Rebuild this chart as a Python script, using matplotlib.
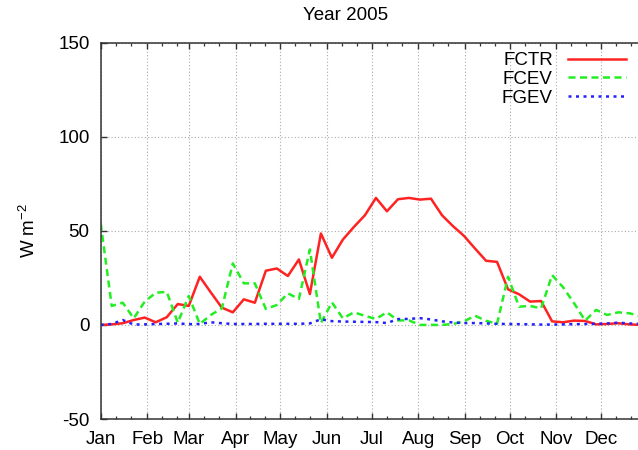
import numpy as np
import matplotlib
matplotlib.use('Agg')
import matplotlib.pyplot as plt

plt.rcParams['font.family'] = ['Liberation Sans', 'DejaVu Sans']
plt.rcParams['axes.unicode_minus'] = False

# Values (W m-2), one point every ~7.35 days
fctr = [0.0, 0.3, 0.9, 2.6, 3.9, 1.4, 4.1, 11.1, 10.1, 25.6,
        17.3, 9.2, 6.7, 13.6, 11.8, 28.8, 30.0, 26.0, 34.8, 16.4,
        48.6, 35.7, 45.4, 52.1, 58.3, 67.5, 60.4, 66.8, 67.5, 66.6,
        67.1, 58.3, 52.5, 47.3, 40.6, 34.1, 33.5, 18.9, 16.3, 12.4,
        12.7, 1.9, 1.4, 2.3, 2.1, 0.3, 0.5, 0.9, 0.3, 0.0]
fcev = [53.9, 10.1, 11.8, 3.5, 12.4, 17.1, 17.6, 1.2, 15.4, 0.5,
        5.3, 8.8, 32.7, 22.1, 22.1, 8.5, 10.6, 16.8, 13.8, 40.1,
        0.9, 12.0, 3.5, 6.7, 4.8, 3.2, 6.7, 2.4, 2.4, 0.0,
        0.0, 0.0, 0.5, 1.9, 4.9, 2.2, 0.6, 25.6, 9.7, 10.1,
        8.8, 26.5, 20.0, 11.5, 2.3, 8.0, 5.3, 6.7, 6.2, 4.8]
fgev = [0.0, 0.5, 2.6, 0.2, 0.3, 0.5, 0.6, 0.8, 0.4, 0.5,
        1.4, 0.9, 0.5, 0.5, 0.5, 0.6, 0.6, 0.6, 0.6, 0.8,
        3.0, 2.0, 1.8, 1.7, 1.6, 1.5, 1.0, 3.1, 3.2, 3.6,
        2.9, 1.9, 1.3, 1.0, 1.0, 0.8, 0.6, 0.5, 0.4, 0.3,
        0.2, 0.2, 0.3, 0.4, 0.5, 0.6, 0.8, 1.2, 0.8, 0.5]
step_days = 7.35
days = np.arange(len(fctr)) * step_days

months = ['Jan', 'Feb', 'Mar', 'Apr', 'May', 'Jun',
          'Jul', 'Aug', 'Sep', 'Oct', 'Nov', 'Dec']
month_start = [0, 31, 59, 90, 120, 151, 181, 212, 243, 273, 304, 334]

fs = 13.5
fig = plt.figure(figsize=(6.38, 4.5), dpi=100)
ax = fig.add_axes([100.7 / 638, 1 - 419 / 450, 537.3 / 638, 376.3 / 450])

ax.plot(days, fctr, color='#ff2222', lw=1.8, label='FCTR')
ax.plot(days, fcev, color='#22ee22', lw=1.8, dashes=(2.8, 1.8), label='FCEV')
ax.plot(days, fgev, color='#2222ff', lw=1.8, dashes=(1.2, 1.8), label='FGEV')

ax.set_xlim(0, 358.7)
ax.set_ylim(-50, 150)
ax.set_xticks(month_start)
ax.set_xticklabels(months)
ax.set_xticks([m + d for m in month_start for d in (10, 20)], minor=True)
ax.set_yticks([-50, 0, 50, 100, 150])

ax.tick_params(which='both', direction='in', top=True, right=False,
               labelsize=fs, color='#333333')
ax.tick_params(which='major', length=4.5, width=1.0)
ax.tick_params(which='minor', length=2.2, width=0.9)
ax.tick_params(axis='x', pad=9)
ax.tick_params(axis='y', pad=8)

for side in ('left', 'bottom', 'top'):
    ax.spines[side].set_linewidth(1.1)
    ax.spines[side].set_color('#333333')
ax.spines['right'].set_visible(False)

ax.grid(True, which='major', color='#aaaaaa', linestyle=(0, (1, 2)), lw=0.8)

ax.set_ylabel(r'W m$^{\mathregular{-2}}$', fontsize=fs, labelpad=14)
fig.text(346 / 638, 1 - 15.5 / 450, 'Year 2005', ha='center', va='center',
         fontsize=fs)

ax.legend(loc='upper right', bbox_to_anchor=(626 / 638, 1 - 52 / 450),
          bbox_transform=fig.transFigure, frameon=False, markerfirst=False,
          fontsize=fs, handlelength=3.1, handletextpad=0.8,
          labelspacing=0.09, borderpad=0, borderaxespad=0)

fig.savefig('out.png', dpi=100)
